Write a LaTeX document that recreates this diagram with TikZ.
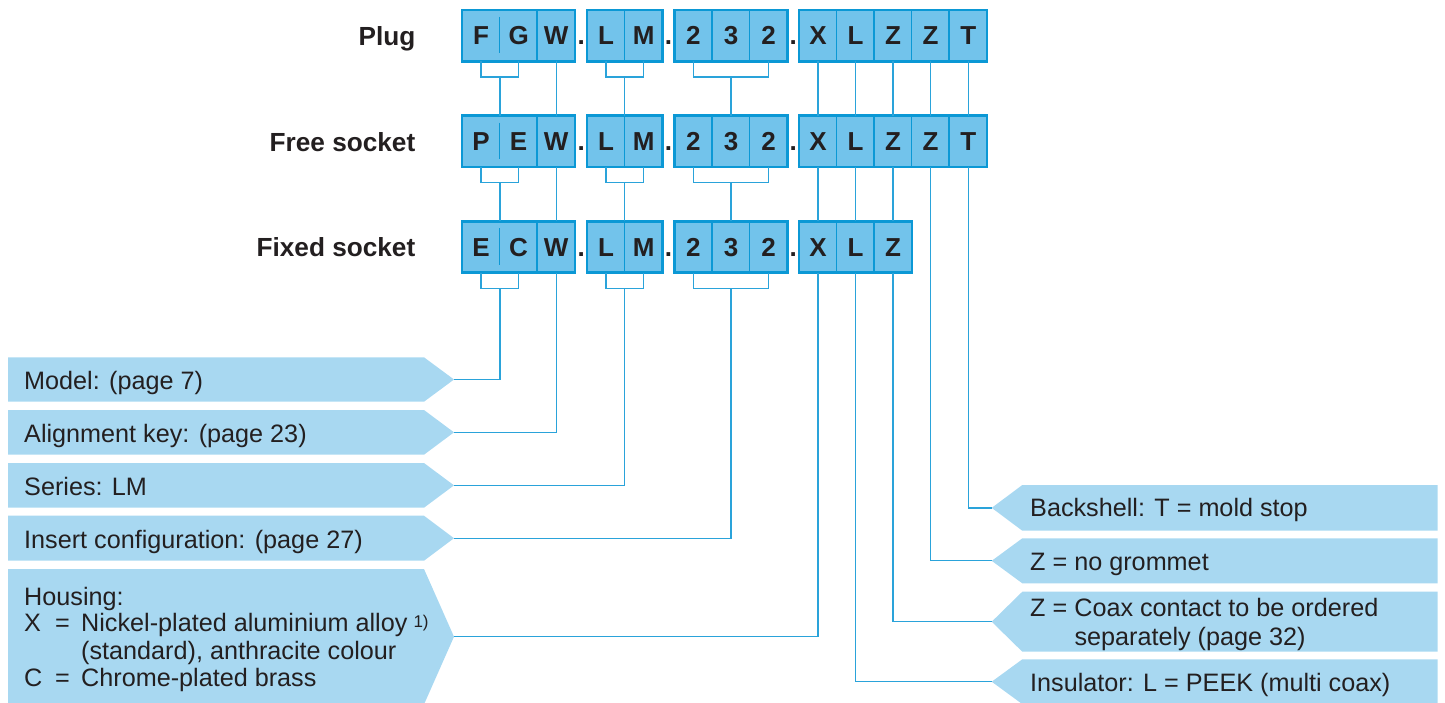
\documentclass[tikz,border=0pt]{standalone}
\usepackage{fontspec}
\setmainfont{Liberation Sans}
\usetikzlibrary{calc}
\definecolor{boxfill}{HTML}{72C3EB}
\definecolor{boxline}{HTML}{0B98D5}
\definecolor{labfill}{HTML}{A8D8F1}
\definecolor{connc}{HTML}{2AA3DA}
\definecolor{txt}{HTML}{231F20}
\tikzset{
  cell/.style={fill=boxfill, minimum width=37.55pt, minimum height=51pt, inner sep=0pt,
    text height=18.3pt, text depth=0pt, font=\bfseries\fontsize{26}{26}\selectfont, text=txt},
  frame/.style={draw=boxline, line width=2.6pt},
  divider/.style={draw=boxline, line width=1.6pt},
  conn/.style={draw=connc, line width=1.3pt},
  rowlab/.style={font=\bfseries\fontsize{26.2}{26.2}\selectfont, text=txt, anchor=base east, inner sep=0pt},
  sepdot/.style={font=\bfseries\fontsize{26}{26}\selectfont, text=txt, anchor=base, inner sep=0pt},
  labtxt/.style={font=\fontsize{25.2}{25.2}\selectfont, text=txt, anchor=base west, inner sep=0pt},
}
\newcommand\leftlab[3]{%
  \fill[labfill] (8,#1) -- (424,#1) -- (454,{(#1+#2)/2}) -- (424,#2) -- (8,#2) -- cycle;
  \coordinate (#3) at (454,{(#1+#2)/2});}
\newcommand\rightlab[3]{%
  \fill[labfill] (1437.7,#1) -- (1022.3,#1) -- (991.7,{(#1+#2)/2}) -- (1022.3,#2) -- (1437.7,#2) -- cycle;
  \coordinate (#3) at (991.7,{(#1+#2)/2});}
\begin{document}
\begin{tikzpicture}[x=1pt,y=-1pt]
\useasboundingbox (0,0) rectangle (1445,702);

% row labels
\node[rowlab] (plug) at (415.5,45) {Plug};
\node[rowlab] (free) at (415.5,151) {Free socket};
\node[rowlab] (fixed) at (415.5,256.7) {Fixed socket};

% cells
\foreach \i/\x/\p/\f/\g in {1/481.08/F/P/E, 2/518.63/G/E/C, 3/556.18/W/W/W,
  4/606.03/L/L/L, 5/643.58/M/M/M, 6/693.43/2/2/2, 7/730.98/3/3/3, 8/768.53/2/2/2,
  9/817.98/X/X/X, 10/855.53/L/L/L, 11/893.08/Z/Z/Z, 12/930.63/Z/Z/Z, 13/968.18/T/T/T}{
  \node[cell] (a\i) at (\x,35.5) {\p};
  \node[cell] (b\i) at (\x,141.2) {\f};
  \ifnum\i<12 \node[cell] (c\i) at (\x,246.9) {\g};\fi
}

% frames and dividers
\foreach \r/\last in {a/13,b/13,c/11}{
  \draw[frame] (\r1.north west) rectangle (\r3.south east);
  \draw[frame] (\r4.north west) rectangle (\r5.south east);
  \draw[frame] (\r6.north west) rectangle (\r8.south east);
  \draw[frame] (\r9.north west) rectangle (\r\last.south east);
  \draw[divider] ($(\r2.north west)+(0,7)$) -- ($(\r2.south west)+(0,-8)$);
  \foreach \k in {3,5,7,8,10,11}{\draw[divider] (\r\k.north west) -- (\r\k.south west);}
  \node[sepdot] (\r dot1) at ($(\r3.east)!.5!(\r4.west)+(0,9.15)$) {.};
  \node[sepdot] (\r dot2) at ($(\r5.east)!.5!(\r6.west)+(0,9.15)$) {.};
  \node[sepdot] (\r dot3) at ($(\r8.east)!.5!(\r9.west)+(0,9.15)$) {.};
}
\foreach \k in {12,13}{\draw[divider] (a\k.north west) -- (a\k.south west);
  \draw[divider] (b\k.north west) -- (b\k.south west);}

% brackets
\foreach \r in {a,b,c}{
  \draw[conn] (\r1.south) -- ++(0,15.7) -| (\r2.south);
  \draw[conn] (\r4.south) -- ++(0,15.7) -| (\r5.south);
  \draw[conn] (\r6.south) -- ++(0,15.7) -| (\r8.south);
  \coordinate (\r FG) at ($(\r1.south)!.5!(\r2.south)+(0,15.7)$);
  \coordinate (\r LM) at ($(\r4.south)!.5!(\r5.south)+(0,15.7)$);
  \coordinate (\r NN) at ($(\r6.south)!.5!(\r8.south)+(0,15.7)$);
}

% connections plug -> free -> fixed
\foreach \u/\d in {a/b,b/c}{
  \draw[conn] (\u FG) -- (\u FG |- \d1.north);
  \draw[conn] (\u LM) -- (\u LM |- \d4.north);
  \draw[conn] (\u NN) -- (\u NN |- \d6.north);
  \foreach \k in {3,9,10,11}{\draw[conn] (\u\k.south) -- (\d\k.north);}
}
\draw[conn] (a12.south) -- (b12.north);
\draw[conn] (a13.south) -- (b13.north);

% left labels
\leftlab{357.3}{401.7}{tipModel}
\leftlab{410}{454.7}{tipAlign}
\leftlab{463}{507.7}{tipSeries}
\leftlab{515.7}{560.7}{tipInsert}
\leftlab{569}{704.4}{tipHousing}
\node[labtxt] (model) at (24,389.3) {Model: (page 7)};
\node[labtxt] (align) at (24,442.1) {Alignment key: (page 23)};
\node[labtxt] (series) at (24,495.1) {Series: LM};
\node[labtxt] (insert) at (24,548.0) {Insert configuration: (page 27)};
\node[labtxt] (hous1) at (24,605) {Housing:};
\node[labtxt] (hous2) at (24,631.7) {\makebox[31pt][l]{X}\makebox[26pt][l]{=}Nickel-plated aluminium alloy\hspace{6pt}\raisebox{4.5pt}{\fontsize{17}{17}\selectfont 1)}};
\node[labtxt] (hous3) at (81,659) {(standard), anthracite colour};
\node[labtxt] (hous4) at (24,686) {\makebox[31pt][l]{C}\makebox[26pt][l]{=}Chrome-plated brass};

% right labels
\rightlab{485}{530.7}{tipBack}
\rightlab{538.3}{583.3}{tipGrom}
\rightlab{591.7}{651.7}{tipCoax}
\rightlab{659.3}{704.1}{tipIns}
\node[labtxt] (back) at (1030,516.7) {Backshell: T = mold stop};
\node[labtxt] (grom) at (1030,570) {Z = no grommet};
\node[labtxt] (coax1) at (1030,616.7) {Z = Coax contact to be ordered};
\node[labtxt] (coax2) at (1074.3,645) {separately (page 32)};
\node[labtxt] (insul) at (1030,691.7) {Insulator: L = PEEK (multi coax)};

% connectors to labels
\draw[conn] (cFG) |- (tipModel);
\draw[conn] (c3.south) |- (tipAlign);
\draw[conn] (cLM) |- (tipSeries);
\draw[conn] (cNN) |- (tipInsert);
\draw[conn] (c9.south) |- (tipHousing);
\draw[conn] (c10.south) |- (tipIns);
\draw[conn] (c11.south) |- (tipCoax);
\draw[conn] (b12.south) |- (tipGrom);
\draw[conn] (b13.south) |- (tipBack);
\end{tikzpicture}
\end{document}
